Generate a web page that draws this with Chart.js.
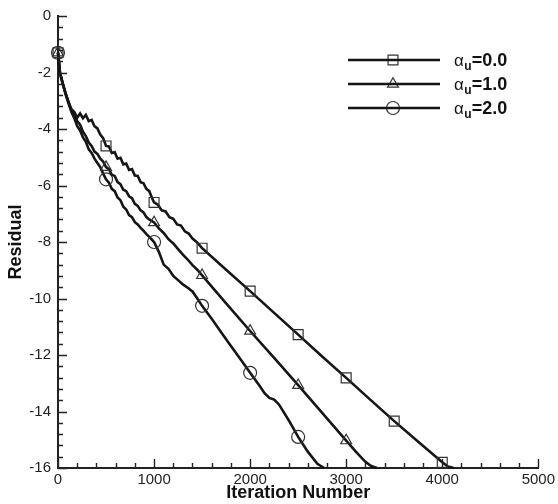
<!DOCTYPE html>
<html>
<head>
<meta charset="utf-8">
<script src="https://cdn.jsdelivr.net/npm/chart.js@4.4.1/dist/chart.umd.min.js"></script>
<style>
  html, body { margin: 0; padding: 0; background: #fff; }
  #wrap { width: 558px; height: 504px; }
</style>
</head>
<body>
<div id="wrap"><canvas id="resChart" width="558" height="504"></canvas></div>
<script>
// residual history
const iterA0 = [0, 20, 50, 80, 110, 140, 170, 200, 230, 260, 290, 320, 350, 380, 410, 440, 470, 500,
  530, 560, 590, 620, 650, 680, 710, 740, 770, 800, 830, 860, 890, 920, 950, 980, 1000,
  1040, 1080, 1120, 1160, 1200, 1240, 1280, 1320, 1360, 1400, 1450, 1500,
  1750, 2000, 2250, 2500, 2750, 3000, 3250, 3500, 3750, 4000, 4060, 4120];
const resA0 = [-1.3, -2.0, -2.4, -2.75, -3.05, -3.3, -3.4, -3.6, -3.45, -3.62, -3.5, -3.72, -3.68, -3.9, -3.98, -4.2, -4.32, -4.6,
  -4.62, -4.85, -4.82, -5.05, -5.02, -5.25, -5.22, -5.45, -5.42, -5.65, -5.66, -5.88, -5.92, -6.12, -6.2, -6.45, -6.6,
  -6.68, -6.88, -6.92, -7.12, -7.18, -7.38, -7.42, -7.62, -7.7, -7.88, -8.02, -8.22,
  -8.98, -9.74, -10.51, -11.28, -12.05, -12.81, -13.58, -14.34, -15.07, -15.8, -15.95, -16.0];

const iterA1 = [0, 20, 50, 80, 110, 140, 170, 200, 230, 260, 290, 320, 350, 380, 410, 440, 470, 500,
  530, 560, 590, 620, 650, 680, 710, 740, 770, 800, 830, 860, 890, 920, 950, 1000,
  1050, 1100, 1150, 1200, 1250, 1300, 1350, 1400, 1450, 1500,
  1750, 2000, 2250, 2500, 2750, 3000, 3100, 3200, 3260, 3320];
const resA1 = [-1.3, -2.0, -2.4, -2.75, -3.05, -3.35, -3.5, -3.72, -3.85, -4.1, -4.25, -4.48, -4.6, -4.8, -4.88, -5.05, -5.15, -5.35,
  -5.42, -5.62, -5.66, -5.88, -5.95, -6.15, -6.2, -6.38, -6.45, -6.65, -6.72, -6.88, -6.95, -7.12, -7.2, -7.31,
  -7.52, -7.68, -7.9, -8.05, -8.25, -8.45, -8.62, -8.82, -8.98, -9.18,
  -10.17, -11.15, -12.1, -13.07, -14.05, -15.03, -15.42, -15.78, -15.93, -16.0];

const iterA2 = [0, 20, 50, 80, 110, 140, 170, 200, 230, 260, 290, 320, 350, 380, 410, 440, 470, 500,
  530, 560, 590, 620, 650, 680, 710, 740, 770, 800, 830, 860, 890, 920, 950, 1000,
  1050, 1100, 1150, 1200, 1250, 1300, 1350, 1400, 1450, 1500,
  1600, 1700, 1800, 1900, 2000, 2100, 2150, 2200, 2250, 2300, 2400, 2500, 2600, 2700, 2770];
const resA2 = [-1.3, -2.0, -2.4, -2.78, -3.1, -3.4, -3.62, -3.9, -4.05, -4.3, -4.45, -4.72, -4.85, -5.05, -5.2, -5.35, -5.58, -5.78,
  -5.9, -6.12, -6.2, -6.42, -6.52, -6.75, -6.85, -7.05, -7.12, -7.3, -7.38, -7.5, -7.6, -7.72, -7.82, -8.0,
  -8.35, -8.8, -8.95, -9.2, -9.35, -9.5, -9.62, -9.75, -10.0, -10.26,
  -10.72, -11.2, -11.68, -12.15, -12.63, -13.1, -13.35, -13.52, -13.58, -13.75, -14.3, -14.9, -15.42, -15.85, -16.0];

const alphaLabels = ['0.0', '1.0', '2.0'];
const markerStyles = ['rect', 'triangle', 'circle'];
const xTicks = [0, 1000, 2000, 3000, 4000, 5000];
const yTicks = [0, -2, -4, -6, -8, -10, -12, -14, -16];

const FONT = '"Liberation Sans", Arial, sans-serif';
const LINE = '#151515';
const MARK = '#333';
const markerSize = { rect: 7, triangle: 6.3, circle: 6.5 };

function toPoints(xs, ys) {
  return xs.map((x, i) => ({ x: x, y: ys[i] }));
}

const series = [
  toPoints(iterA0, resA0),
  toPoints(iterA1, resA1),
  toPoints(iterA2, resA2),
];

const datasets = series.map((pts, k) => ({
  label: 'alpha_u=' + alphaLabels[k],
  data: pts,
  borderColor: LINE,
  borderWidth: 2.6,
  backgroundColor: 'rgba(0,0,0,0)',
  pointStyle: markerStyles[k],
  pointBorderColor: MARK,
  pointBackgroundColor: 'rgba(0,0,0,0)',
  pointBorderWidth: 1.2,
  pointRadius: ctx => (ctx.raw && ctx.raw.x % 500 === 0 ? markerSize[markerStyles[k]] : 0),
  pointHoverRadius: 0,
  tension: 0,
  clip: false,
}));

// inward major/minor ticks, drawn from the scales
const innerTicks = {
  id: 'innerTicks',
  afterDraw(chart) {
    const { ctx, scales: { x, y } } = chart;
    ctx.save();
    ctx.strokeStyle = '#222';
    ctx.lineWidth = 1.4;
    ctx.beginPath();
    for (let i = 0; i <= 25; i++) {
      const px = Math.round(x.getPixelForValue(i * 200)) + 0.5;
      const len = i % 5 === 0 ? 9 : 5;
      ctx.moveTo(px, y.bottom);
      ctx.lineTo(px, y.bottom - len);
    }
    for (let i = 0; i <= 40; i++) {
      const py = Math.round(y.getPixelForValue(-i * 0.4)) + 0.5;
      const len = i % 5 === 0 ? 9 : 5;
      ctx.moveTo(x.left, py);
      ctx.lineTo(x.left + len, py);
    }
    ctx.stroke();
    ctx.restore();
  }
};

function drawMarker(ctx, style, cx, cy) {
  const r = markerSize[style];
  ctx.beginPath();
  if (style === 'rect') {
    const s = r * Math.SQRT1_2;
    ctx.rect(cx - s, cy - s, 2 * s, 2 * s);
  } else if (style === 'triangle') {
    ctx.moveTo(cx, cy - r);
    ctx.lineTo(cx + r * Math.sin(Math.PI / 3), cy + r / 2);
    ctx.lineTo(cx - r * Math.sin(Math.PI / 3), cy + r / 2);
    ctx.closePath();
  } else {
    ctx.arc(cx, cy, r, 0, Math.PI * 2);
  }
  ctx.stroke();
}

// legend with subscripted alpha
const alphaLegend = {
  id: 'alphaLegend',
  afterDraw(chart) {
    const ctx = chart.ctx;
    ctx.save();
    alphaLabels.forEach((lab, k) => {
      const yy = 60 + k * 24;
      ctx.strokeStyle = MARK;
      ctx.lineWidth = 1.2;
      drawMarker(ctx, markerStyles[k], 393, yy);
      ctx.strokeStyle = LINE;
      ctx.lineWidth = 2.6;
      ctx.beginPath();
      ctx.moveTo(348, yy);
      ctx.lineTo(440, yy);
      ctx.stroke();

      ctx.fillStyle = '#111';
      ctx.textBaseline = 'alphabetic';
      ctx.textAlign = 'left';
      let tx = 454;
      const base = yy + 6;
      ctx.font = '17px ' + FONT;
      ctx.fillText('α', tx, base);
      tx += ctx.measureText('α').width + 0.5;
      ctx.font = 'bold 12px ' + FONT;
      ctx.fillText('u', tx, base + 4);
      tx += ctx.measureText('u').width;
      ctx.font = 'bold 18px ' + FONT;
      ctx.fillText('=' + lab, tx, base);
    });
    ctx.restore();
  }
};

new Chart(document.getElementById('resChart'), {
  type: 'line',
  data: { datasets },
  options: {
    responsive: false,
    animation: false,
    events: [],
    layout: { padding: { left: 5, top: 15, right: 17, bottom: 0 } },
    plugins: {
      legend: { display: false },
      tooltip: { enabled: false },
    },
    scales: {
      x: {
        type: 'linear',
        min: 0,
        max: 5000,
        afterBuildTicks: s => { s.ticks = xTicks.map(v => ({ value: v })); },
        afterFit: s => { s.height = 36; },
        grid: { display: true, drawOnChartArea: false, drawTicks: false },
        border: { display: true, color: '#222', width: 2 },
        ticks: { color: '#222', font: { family: FONT, size: 15 }, padding: 3, maxRotation: 0, callback: v => String(v) },
        title: {
          display: true,
          text: 'Iteration Number',
          color: '#111',
          font: { family: FONT, size: 18, weight: 'bold' },
          padding: { top: 0, bottom: 0 },
        },
      },
      y: {
        type: 'linear',
        min: -16,
        max: 0,
        afterBuildTicks: s => { s.ticks = yTicks.map(v => ({ value: v })); },
        afterFit: s => { s.width = 53; },
        grid: { display: true, drawOnChartArea: false, drawTicks: false },
        border: { display: true, color: '#222', width: 2 },
        ticks: { color: '#222', font: { family: FONT, size: 15 }, padding: 7, callback: v => String(v) },
        title: {
          display: true,
          text: 'Residual',
          color: '#111',
          font: { family: FONT, size: 18, weight: 'bold' },
          padding: { top: 0, bottom: 0 },
        },
      },
    },
  },
  plugins: [innerTicks, alphaLegend],
});
</script>
</body>
</html>
